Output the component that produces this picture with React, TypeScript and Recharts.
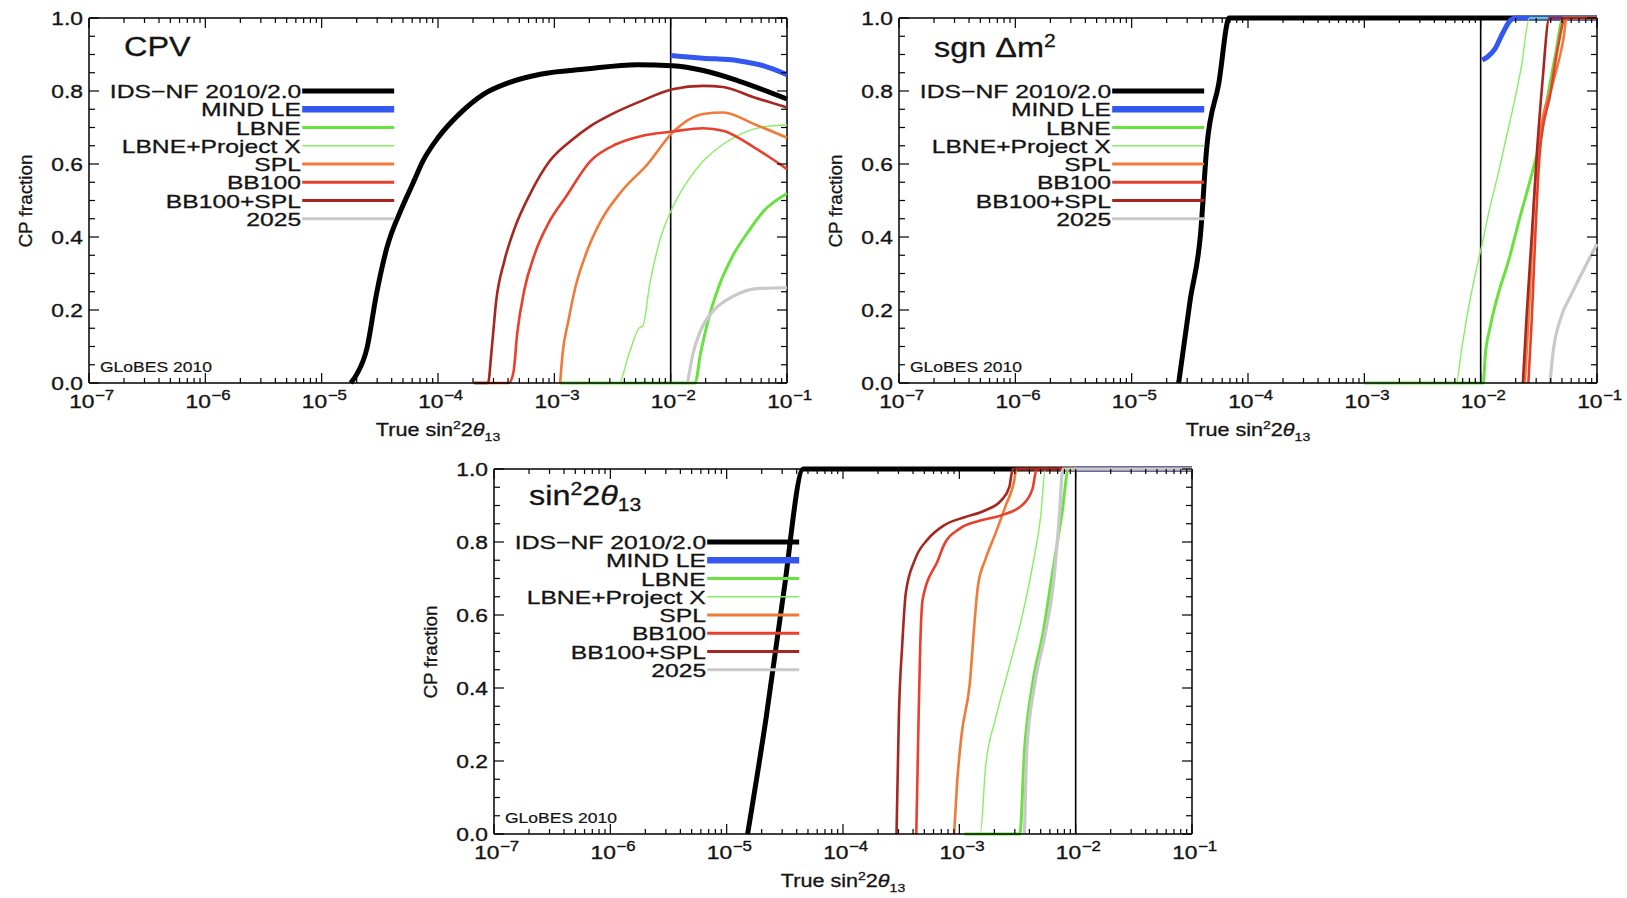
import React from "react";
import { LineChart, Line, XAxis, YAxis, ReferenceLine } from "recharts";

// each point: [log10(true sin^2 2theta13), CP fraction]
type Pt = [number, number];

const SERIES_NAMES = ["IDS\u2212NF 2010/2.0", "MIND LE", "LBNE", "LBNE+Project X", "SPL", "BB100", "BB100+SPL", "2025"];
const SERIES_COLORS = ["#000000", "#3457f0", "#69e23f", "#86ef62", "#f07a38", "#e8402c", "#a6271f", "#c9c9c9"];
const LINE_WIDTHS = [5, 5, 3, 1.4, 2.6, 2.6, 2.6, 3.2];
const LEGEND_WIDTHS = [5, 6.5, 3, 1.7, 3.2, 3.2, 3, 3.2];
const LEGEND_ROWS = [0.8, 0.75, 0.7, 0.65, 0.6, 0.55, 0.5, 0.45];
const LEGEND_X = [6.8e-6, 4.2e-5];

const X_TICKS: number[] = [];
for (let e = -7; e <= -2; e++) for (let m = 1; m <= 9; m++) X_TICKS.push(Number((m * 10 ** e).toPrecision(3)));
X_TICKS.push(0.1);
const Y_TICKS = [0, 0.05, 0.1, 0.15, 0.2, 0.25, 0.3, 0.35, 0.4, 0.45, 0.5, 0.55, 0.6, 0.65, 0.7, 0.75, 0.8, 0.85, 0.9, 0.95, 1];

// ---- CPV
const cpvIds: Pt[] = [[-4.75, 0], [-4.7, 0.023], [-4.61, 0.096], [-4.53, 0.242], [-4.44, 0.37], [-4.31, 0.48], [-4.22, 0.544], [-4.13, 0.608], [-4.0, 0.672], [-3.82, 0.736], [-3.61, 0.791], [-3.39, 0.823], [-3.12, 0.846], [-2.73, 0.86], [-2.29, 0.872], [-1.985, 0.869], [-1.72, 0.856], [-1.42, 0.828], [-1.0, 0.778]];
const cpvMind: Pt[] = [[-2.0, 0.897], [-1.72, 0.89], [-1.42, 0.883], [-1.2, 0.869], [-1.0, 0.845]];
const cpvLbne: Pt[] = [[-2.95, 0], [-1.79, 0], [-1.745, 0.078], [-1.68, 0.169], [-1.59, 0.261], [-1.46, 0.352], [-1.33, 0.416], [-1.2, 0.471], [-1.0, 0.519]];
const cpvLbnePx: Pt[] = [[-2.95, 0], [-2.445, 0], [-2.36, 0.078], [-2.27, 0.151], [-2.24, 0.156], [-2.18, 0.27], [-2.095, 0.389], [-1.985, 0.48], [-1.855, 0.553], [-1.72, 0.608], [-1.55, 0.654], [-1.37, 0.686], [-1.2, 0.702], [-1.0, 0.707]];
const cpvSpl: Pt[] = [[-2.95, 0], [-2.93, 0.078], [-2.88, 0.169], [-2.82, 0.261], [-2.73, 0.352], [-2.6, 0.444], [-2.42, 0.526], [-2.2, 0.599], [-1.985, 0.686], [-1.72, 0.737], [-1.55, 0.741], [-1.28, 0.709], [-1.0, 0.672]];
const cpvBb100: Pt[] = [[-3.69, 0], [-3.39, 0], [-3.35, 0.032], [-3.32, 0.133], [-3.26, 0.252], [-3.17, 0.352], [-3.04, 0.444], [-2.905, 0.508], [-2.69, 0.608], [-2.47, 0.654], [-2.25, 0.677], [-1.985, 0.689], [-1.72, 0.698], [-1.55, 0.691], [-1.28, 0.645], [-1.0, 0.586]];
const cpvBbSpl: Pt[] = [[-3.69, 0], [-3.57, 0], [-3.54, 0.087], [-3.5, 0.224], [-3.43, 0.334], [-3.34, 0.425], [-3.21, 0.517], [-3.04, 0.608], [-2.86, 0.663], [-2.69, 0.704], [-2.51, 0.736], [-2.25, 0.773], [-1.985, 0.805], [-1.72, 0.814], [-1.55, 0.811], [-1.28, 0.782], [-1.0, 0.755]];
const cpv2025: Pt[] = [[-1.855, 0], [-1.81, 0.078], [-1.745, 0.142], [-1.635, 0.197], [-1.46, 0.238], [-1.24, 0.259], [-1.0, 0.261]];

// ---- sgn dm^2
const sgnIds: Pt[] = [[-4.596, 0], [-4.498, 0.225], [-4.408, 0.408], [-4.354, 0.647], [-4.251, 0.821], [-4.161, 1], [-1.0, 1]];
const sgnMind: Pt[] = [[-1.987, 0.885], [-1.94, 0.894], [-1.874, 0.917], [-1.81, 0.959], [-1.74, 0.995], [-1.695, 1], [-1.0, 1]];
const sgnLbne: Pt[] = [[-3.0, 0], [-1.978, 0], [-1.96, 0.078], [-1.92, 0.151], [-1.85, 0.243], [-1.76, 0.335], [-1.67, 0.445], [-1.56, 0.573], [-1.49, 0.665], [-1.43, 0.775], [-1.36, 0.894], [-1.29, 1], [-1.0, 1]];
const sgnLbnePx: Pt[] = [[-3.0, 0], [-2.21, 0], [-2.166, 0.087], [-2.11, 0.197], [-2.04, 0.307], [-1.987, 0.381], [-1.92, 0.482], [-1.85, 0.573], [-1.785, 0.665], [-1.72, 0.757], [-1.65, 0.867], [-1.58, 1], [-1.0, 1]];
const sgnSpl: Pt[] = [[-1.62, 0], [-1.58, 0.225], [-1.54, 0.5], [-1.49, 0.683], [-1.38, 0.821], [-1.29, 0.94], [-1.26, 1], [-1.0, 1]];
const sgnBb100: Pt[] = [[-1.59, 0], [-1.56, 0.179], [-1.53, 0.408], [-1.49, 0.638], [-1.4, 0.794], [-1.34, 0.913], [-1.27, 1], [-1.0, 1]];
const sgnBbSpl: Pt[] = [[-1.637, 0], [-1.606, 0.179], [-1.56, 0.408], [-1.515, 0.638], [-1.47, 0.821], [-1.41, 1], [-1.0, 1]];
const sgn2025: Pt[] = [[-1.404, 0], [-1.38, 0.078], [-1.31, 0.179], [-1.22, 0.243], [-1.09, 0.326], [-1.0, 0.381]];

// ---- sin^2 2theta13
const sinIds: Pt[] = [[-4.82, 0], [-4.66, 0.32], [-4.51, 0.661], [-4.34, 1], [-1.0, 1]];
const sinMind: Pt[] = [[-2.0, 1], [-1.0, 1]];
const sinLbne: Pt[] = [[-2.955, 0], [-2.48, 0], [-2.44, 0.228], [-2.37, 0.413], [-2.28, 0.551], [-2.19, 0.735], [-2.12, 0.873], [-2.06, 1], [-1.0, 1]];
const sinLbnePx: Pt[] = [[-2.955, 0], [-2.82, 0], [-2.775, 0.182], [-2.685, 0.32], [-2.57, 0.459], [-2.46, 0.597], [-2.37, 0.735], [-2.3, 0.873], [-2.26, 1], [-1.0, 1]];
const sinSpl: Pt[] = [[-3.045, 0], [-3.02, 0.136], [-2.98, 0.274], [-2.91, 0.413], [-2.865, 0.597], [-2.84, 0.68], [-2.775, 0.753], [-2.685, 0.827], [-2.6, 0.901], [-2.53, 0.965], [-2.51, 1], [-1.0, 1]];
const sinBb100: Pt[] = [[-3.37, 0], [-3.35, 0.32], [-3.337, 0.505], [-3.315, 0.643], [-3.18, 0.753], [-3.135, 0.79], [-3.0, 0.836], [-2.82, 0.859], [-2.64, 0.873], [-2.46, 0.901], [-2.37, 0.947], [-2.335, 1], [-1.0, 1]];
const sinBbSpl: Pt[] = [[-3.54, 0], [-3.52, 0.32], [-3.49, 0.523], [-3.46, 0.661], [-3.38, 0.753], [-3.27, 0.808], [-3.135, 0.845], [-2.955, 0.868], [-2.775, 0.887], [-2.64, 0.914], [-2.57, 0.951], [-2.54, 1], [-1.0, 1]];
const sin2025: Pt[] = [[-2.44, 0], [-2.42, 0.228], [-2.35, 0.413], [-2.26, 0.551], [-2.19, 0.689], [-2.14, 0.873], [-2.11, 1], [-1.0, 1]];

const PANELS = [
  { left: 0, top: 0, title: <>CPV</>, series: [cpvIds, cpvMind, cpvLbne, cpvLbnePx, cpvSpl, cpvBb100, cpvBbSpl, cpv2025] },
  { left: 810, top: 0, title: <>sgn &Delta;m<sup style={{ fontSize: "0.65em" }}>2</sup></>, series: [sgnIds, sgnMind, sgnLbne, sgnLbnePx, sgnSpl, sgnBb100, sgnBbSpl, sgn2025] },
  { left: 405, top: 451, title: <>sin<sup style={{ fontSize: "0.65em" }}>2</sup>2<i>&theta;</i><sub style={{ fontSize: "0.65em" }}>13</sub></>, series: [sinIds, sinMind, sinLbne, sinLbnePx, sinSpl, sinBb100, sinBbSpl, sin2025] },
];

const W = 840;
const H = 445;
const PLOT = { x: 89, y: 18, w: 698, h: 365 };
const FONT = "'Liberation Sans', Arial, Helvetica, sans-serif";
const SX = 1.2;
const INK = "#141414";

function XTick(props: any) {
  const { x, y, payload } = props;
  const v = payload.value;
  const e = Math.log10(v);
  const major = Math.abs(e - Math.round(e)) < 1e-6;
  const len = major ? 10 : 5;
  return (
    <g>
      <line x1={x} y1={y} x2={x} y2={y - len} stroke="#000" strokeWidth={1.2} />
      <line x1={x} y1={PLOT.y} x2={x} y2={PLOT.y + len} stroke="#000" strokeWidth={1.2} />
      {major && (
        <g transform={`translate(${x},${y + 25}) scale(${SX},1)`} fill={INK} stroke={INK} strokeWidth={0.35}>
          <text x={-6} y={0} textAnchor="middle" fontFamily={FONT} fontSize={19}>
            10
          </text>
          <text x={5} y={-8} textAnchor="start" fontFamily={FONT} fontSize={14}>
            {"\u2212" + Math.abs(Math.round(e))}
          </text>
        </g>
      )}
    </g>
  );
}

function YTick(props: any) {
  const { x, y, payload } = props;
  const v = payload.value;
  const major = Math.abs(v * 5 - Math.round(v * 5)) < 1e-6;
  const len = major ? 10 : 6;
  const xr = PLOT.x + PLOT.w;
  return (
    <g>
      <line x1={x} y1={y} x2={x + len} y2={y} stroke="#000" strokeWidth={1.2} />
      <line x1={xr} y1={y} x2={xr - len} y2={y} stroke="#000" strokeWidth={1.2} />
      {major && (
        <g transform={`translate(${x - 6},${y}) scale(${SX},1)`} fill={INK} stroke={INK} strokeWidth={0.35}>
          <text x={0} y={0} textAnchor="end" dominantBaseline="central" fontFamily={FONT} fontSize={19}>
            {v.toFixed(1)}
          </text>
        </g>
      )}
    </g>
  );
}

const txt: React.CSSProperties = { position: "absolute", fontFamily: FONT, color: INK, lineHeight: 1, whiteSpace: "nowrap", WebkitTextStroke: "0.3px #141414" };

function Panel({ left, top, title, series }: { left: number; top: number; title: React.ReactNode; series: Pt[][] }) {
  return (
    <div style={{ position: "absolute", left, top, width: W, height: H }}>
      <LineChart width={W} height={H} margin={{ top: PLOT.y, right: W - PLOT.x - PLOT.w, bottom: 0, left: 0 }}>
        <XAxis
          xAxisId="b"
          type="number"
          dataKey="x"
          scale="log"
          domain={[1e-7, 0.1]}
          ticks={X_TICKS}
          interval={0}
          tickSize={0}
          tickMargin={0}
          tickLine={false}
          height={H - PLOT.y - PLOT.h}
          axisLine={{ stroke: "#000", strokeWidth: 1.5 }}
          tick={(p: any) => <XTick {...p} />}
        />
        <YAxis
          yAxisId="l"
          type="number"
          dataKey="y"
          domain={[0, 1]}
          ticks={Y_TICKS}
          interval={0}
          tickSize={0}
          tickMargin={0}
          tickLine={false}
          width={PLOT.x}
          axisLine={{ stroke: "#000", strokeWidth: 1.5 }}
          tick={(p: any) => <YTick {...p} />}
        />
        <ReferenceLine xAxisId="b" yAxisId="l" y={1} stroke="#000" strokeWidth={1.5} />
        <ReferenceLine xAxisId="b" yAxisId="l" x={0.1} stroke="#000" strokeWidth={1.5} />
        <ReferenceLine xAxisId="b" yAxisId="l" x={0.01} stroke="#000" strokeWidth={1.6} />
        {series.map((pts, i) => (
          <Line
            key={SERIES_NAMES[i]}
            xAxisId="b"
            yAxisId="l"
            data={pts.map(([lx, y]) => ({ x: 10 ** lx, y }))}
            dataKey="y"
            type="monotone"
            stroke={SERIES_COLORS[i]}
            strokeWidth={LINE_WIDTHS[i]}
            strokeLinejoin="round"
            dot={false}
            activeDot={false}
            isAnimationActive={false}
          />
        ))}
        {LEGEND_ROWS.map((v, i) => (
          <ReferenceLine
            key={"leg" + i}
            xAxisId="b"
            yAxisId="l"
            segment={[{ x: LEGEND_X[0], y: v }, { x: LEGEND_X[1], y: v }]}
            stroke={SERIES_COLORS[i]}
            strokeWidth={LEGEND_WIDTHS[i]}
          />
        ))}
      </LineChart>
      {LEGEND_ROWS.map((v, i) => (
        <div
          key={"lt" + i}
          style={{ ...txt, right: W - 301, top: PLOT.y + (1 - v) * PLOT.h, fontSize: 19, transform: `translateY(-50%) scaleX(1.3)`, transformOrigin: "right center" }}
        >
          {SERIES_NAMES[i]}
        </div>
      ))}
      <div style={{ ...txt, left: 124, top: 47, fontSize: 27, transform: `translateY(-50%) scaleX(${SX})`, transformOrigin: "left center" }}>{title}</div>
      <div style={{ ...txt, left: 100, top: 367, fontSize: 14, WebkitTextStroke: "0.2px #141414", transform: `translateY(-50%) scaleX(1.25)`, transformOrigin: "left center" }}>GLoBES 2010</div>
      <div style={{ ...txt, left: PLOT.x + PLOT.w / 2, top: 431, fontSize: 18, transform: `translate(-50%,-50%) scaleX(${SX})` }}>
        True sin<sup style={{ fontSize: "0.65em" }}>2</sup>2<i>&theta;</i><sub style={{ fontSize: "0.65em" }}>13</sub>
      </div>
      <div style={{ ...txt, left: 26, top: PLOT.y + PLOT.h / 2, fontSize: 18, transform: "translate(-50%,-50%) rotate(-90deg) scaleX(1.05)" }}>CP fraction</div>
    </div>
  );
}

export default function App() {
  return (
    <div style={{ position: "absolute", left: 0, top: 0, width: 1627, height: 898, background: "#fff", overflow: "hidden" }}>
      {PANELS.map((p, i) => (
        <Panel key={i} {...p} />
      ))}
    </div>
  );
}
